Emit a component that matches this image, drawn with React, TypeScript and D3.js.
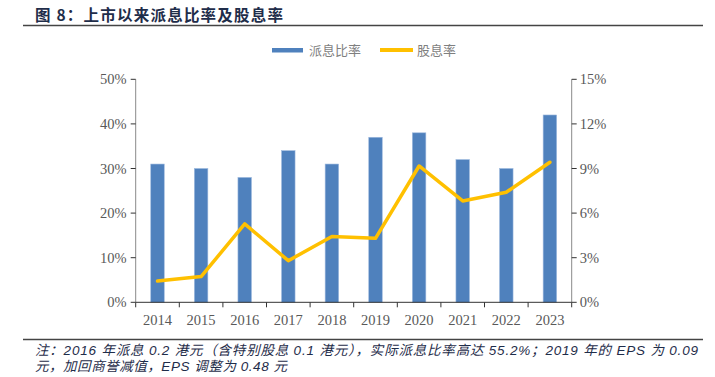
import React from "react";
import * as d3 from "d3";

const years = ["2014", "2015", "2016", "2017", "2018", "2019", "2020", "2021", "2022", "2023"];
const payoutRatio = [31, 30, 28, 34, 31, 37, 38, 32, 30, 42];
const dividendYield = [1.43, 1.73, 5.27, 2.8, 4.42, 4.3, 9.17, 6.82, 7.4, 9.42];
const leftTicks = [0, 10, 20, 30, 40, 50];
const rightTicks = [0, 3, 6, 9, 12, 15];
const title = "图 8：上市以来派息比率及股息率";
const legendNames = ["派息比率", "股息率"];
const note1 = "注：2016 年派息 0.2 港元（含特别股息 0.1 港元），实际派息比率高达 55.2%；2019 年的 EPS 为 0.09";
const note2 = "元，加回商誉减值，EPS 调整为 0.48 元";

export default function App() {
  const W = 715, H = 377;
  const left = 135.7, right = 571.7, top = 79.3, bottom = 302.3;
  const x = d3.scaleBand<string>().domain(years).range([left, right]).paddingInner(0).paddingOuter(0);
  const yL = d3.scaleLinear().domain([0, 50]).range([bottom, top]);
  const yR = d3.scaleLinear().domain([0, 15]).range([bottom, top]);
  const barW = 13.5;
  const line = d3.line<number>()
    .x((_, i) => x(years[i])! + x.bandwidth() / 2)
    .y((d) => yR(d));
  const axisColor = "#898989";
  const tickFont = "'Liberation Serif', 'Times New Roman', serif";
  const labelColor = "#595959";
  const noteFont = "'Liberation Sans', 'Noto Sans CJK SC', sans-serif";
  return (
    <svg width={W} height={H} style={{ position: "absolute", left: 0, top: 0, background: "#fff" }}>
      <text x={35} y={21} fontFamily="'Noto Sans CJK SC', sans-serif" fontWeight="bold" fontSize={15.5} fill="#1f2d4a" textLength={248} lengthAdjust="spacing">{title}</text>
      <line x1={23} x2={703} y1={25.5} y2={25.5} stroke="#444" strokeWidth={1.3} />
      {/* legend */}
      <rect x={272} y={48} width={31} height={4.5} fill="#4F81BD" />
      <text x={309} y={55} fontFamily="'Noto Sans CJK SC', sans-serif" fontSize={13} fill="#7f7f7f">{legendNames[0]}</text>
      <rect x={380} y={48} width={33} height={4} fill="#FFC000" />
      <text x={417} y={55} fontFamily="'Noto Sans CJK SC', sans-serif" fontSize={13} fill="#7f7f7f">{legendNames[1]}</text>
      {/* bars */}
      {payoutRatio.map((v, i) => (
        <rect key={i} x={x(years[i])! + x.bandwidth() / 2 - barW / 2} y={yL(v)} width={barW} height={bottom - yL(v)} fill="#4F81BD" stroke="#9DB9DE" strokeWidth={0.6} />
      ))}
      {/* axes */}
      <line x1={left} x2={left} y1={top} y2={bottom} stroke={axisColor} strokeWidth={1} />
      <line x1={right} x2={right} y1={top} y2={bottom} stroke={axisColor} strokeWidth={1} />
      <line x1={left} x2={right} y1={bottom} y2={bottom} stroke="#333" strokeWidth={1} />
      {leftTicks.map((t) => (
        <g key={"l" + t}>
          <line x1={left - 5} x2={left} y1={yL(t)} y2={yL(t)} stroke="#333" />
          <text x={left - 9} y={yL(t) + 5} textAnchor="end" fontFamily={tickFont} fontSize={14.5} fill={labelColor}>{t}%</text>
        </g>
      ))}
      {rightTicks.map((t) => (
        <g key={"r" + t}>
          <line x1={right} x2={right + 5} y1={yR(t)} y2={yR(t)} stroke="#333" />
          <text x={right + 8} y={yR(t) + 5} textAnchor="start" fontFamily={tickFont} fontSize={14.5} fill={labelColor}>{t}%</text>
        </g>
      ))}
      {years.map((yv, i) => (
        <line key={"xt" + i} x1={x(yv)!} x2={x(yv)!} y1={bottom} y2={bottom + 5} stroke="#333" />
      ))}
      <line x1={right} x2={right} y1={bottom} y2={bottom + 5} stroke="#333" />
      {years.map((yv) => (
        <text key={"xl" + yv} x={x(yv)! + x.bandwidth() / 2} y={bottom + 23} textAnchor="middle" fontFamily={tickFont} fontSize={14.5} fill={labelColor}>{yv}</text>
      ))}
      {/* line */}
      <path d={line(dividendYield)!} fill="none" stroke="#FFC000" strokeWidth={3.5} strokeLinejoin="round" strokeLinecap="round" />
      <line x1={23} x2={703} y1={339.5} y2={339.5} stroke="#444" strokeWidth={1.3} />
      <text x={35} y={355} fontFamily={noteFont} fontStyle="italic" fontSize={13.5} fill="#1f2d4a" textLength={663} lengthAdjust="spacing">{note1}</text>
      <text x={35} y={371} fontFamily={noteFont} fontStyle="italic" fontSize={13.5} fill="#1f2d4a" textLength={252} lengthAdjust="spacing">{note2}</text>
    </svg>
  );
}
